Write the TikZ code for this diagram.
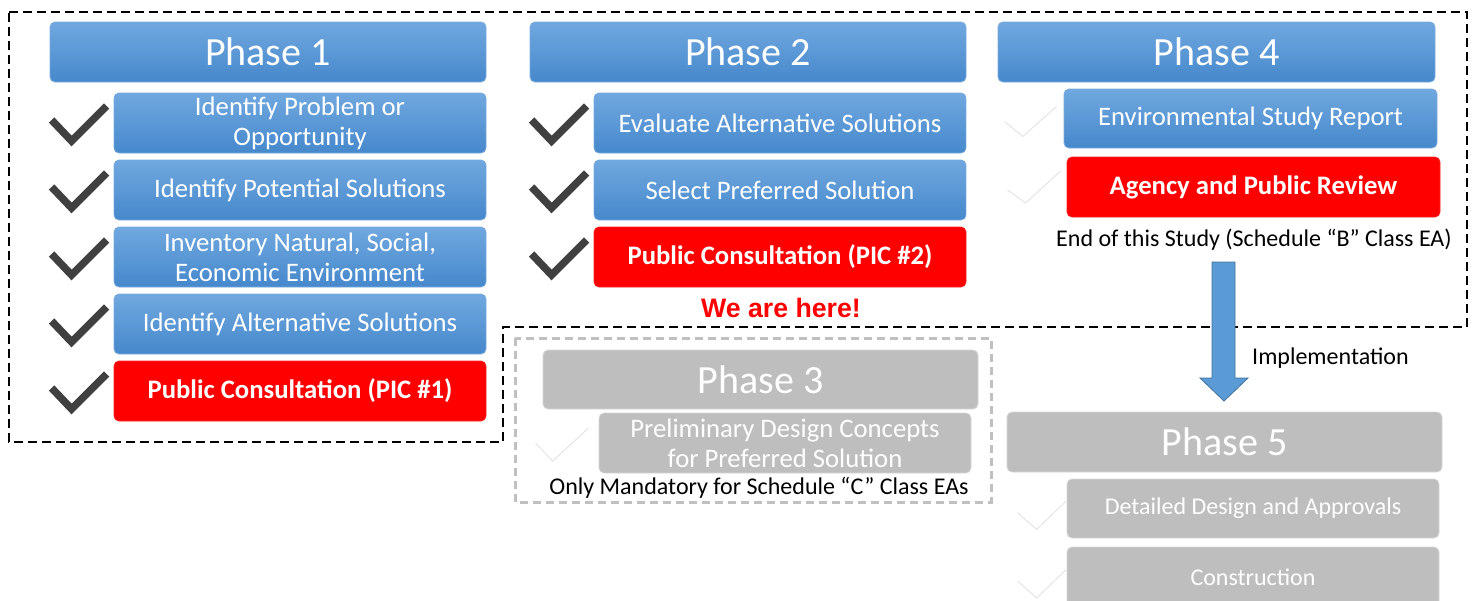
\documentclass[tikz,border=0pt]{standalone}
\usepackage{fontspec}
\setmainfont{Carlito}
\newfontfamily\arialfont{Liberation Sans}
\usetikzlibrary{calc}
\definecolor{blueT}{RGB}{112,168,223}
\definecolor{blueB}{RGB}{70,136,204}
\definecolor{blueE}{RGB}{120,170,222}
\definecolor{grayF}{RGB}{190,190,190}
\definecolor{grayE}{RGB}{215,215,215}
\definecolor{checkC}{RGB}{64,64,64}
\definecolor{fadeC}{RGB}{228,228,228}
\definecolor{arrowF}{RGB}{91,155,213}
\definecolor{arrowE}{RGB}{65,113,156}
\definecolor{dashG}{RGB}{192,192,192}
\newcommand{\fsub}{\fontsize{26.7}{30}\selectfont}
\newcommand{\fhead}{\fontsize{40}{44}\selectfont}
\newcommand{\flab}{\fontsize{24}{28}\selectfont}
\tikzset{
  basebox/.style={rounded corners=5pt, inner sep=0pt, align=center, text=white, line width=0.8pt},
  bluebox/.style={basebox, top color=blueT, bottom color=blueB, draw=blueE, font=\fsub},
  bluehead/.style={bluebox, font=\fhead},
  redbox/.style={basebox, fill=red, draw=red!85!white, font=\fsub\bfseries},
  graybox/.style={basebox, fill=grayF, draw=grayE, font=\fsub},
  grayhead/.style={graybox, font=\fhead},
  graysmall/.style={graybox, font=\flab},
  check/.style={line width=7.5pt, draw=checkC, line join=miter},
  fadecheck/.style={line width=1pt, draw=fadeC},
  label/.style={inner sep=0pt, font=\flab, text=black}
}
\begin{document}
\begin{tikzpicture}[x=1pt,y=-1pt]
\useasboundingbox (0,0) rectangle (1474,600);
% outer dashed frame
\draw[line width=2.5pt, dash pattern=on 9pt off 5pt]
  (9,12) -- (1467,12) -- (1467,327) -- (503,327) -- (503,442) -- (9,442) -- cycle;
% phase 3 frame
\draw[line width=3pt, draw=dashG, dash pattern=on 8pt off 5pt]
  (515,338) rectangle (991,502);

% Phase 1
\node[bluehead, minimum width=436pt, minimum height=60pt] (p1h) at (268,52) {Phase 1};
\node[bluebox, minimum width=372pt, minimum height=60pt] (p1a) at (300,123) {Identify Problem or\\Opportunity};
\node[bluebox, minimum width=372pt, minimum height=60pt] (p1b) at (300,190) {\raisebox{-1pt}{Identify Potential Solutions}};
\node[bluebox, minimum width=372pt, minimum height=60pt] (p1c) at (300,257) {Inventory Natural, Social,\\Economic Environment};
\node[bluebox, minimum width=372pt, minimum height=60pt] (p1d) at (300,324) {\raisebox{-1pt}{Identify Alternative Solutions}};
\node[redbox, minimum width=372pt, minimum height=60pt] (p1e) at (300,391) {\raisebox{-1pt}{Public Consultation (PIC \#1)}};
\foreach \n in {p1a,p1b,p1c,p1d,p1e}{
  \draw[check] ($(\n.west)+(-62,-3)$) -- ++(20,21) -- ++(35,-35);
}

% Phase 2
\node[bluehead, minimum width=436pt, minimum height=60pt] (p2h) at (748,52) {Phase 2};
\node[bluebox, minimum width=372pt, minimum height=60pt] (p2a) at (780,123) {Evaluate Alternative Solutions};
\node[bluebox, minimum width=372pt, minimum height=60pt] (p2b) at (780,190) {Select Preferred Solution};
\node[redbox, minimum width=372pt, minimum height=60pt] (p2c) at (780,257) {\raisebox{-1pt}{Public Consultation (PIC \#2)}};
\foreach \n in {p2a,p2b,p2c}{
  \draw[check] ($(\n.west)+(-62,-3)$) -- ++(20,21) -- ++(35,-35);
}
\node[inner sep=0pt, text=red, font=\arialfont\bfseries\fontsize{26.7}{30}\selectfont] (here) at (781,308) {We are here!};

% Phase 4
\node[bluehead, minimum width=437pt, minimum height=60pt] (p4h) at (1216.5,52) {Phase 4};
\node[bluebox, minimum width=373pt, minimum height=59pt] (p4a) at (1250.5,118.5) {Environmental Study Report};
\node[redbox, minimum width=373pt, minimum height=60pt] (p4b) at (1253.5,187) {\raisebox{-1pt}{Agency and Public Review}};
\draw[fadecheck] ($(p4a.west)+(-59,3)$) -- ++(18,15) -- ++(34,-30);
\draw[fadecheck] ($(p4b.west)+(-59,3)$) -- ++(18,13) -- ++(35,-32);
\node[label] (p4l) at (1254,240) {End of this Study (Schedule “B” Class EA)};

% Phase 3
\node[grayhead, minimum width=435pt, minimum height=59pt] (p3h) at (760.5,379.5) {Phase 3};
\node[graybox, minimum width=372pt, minimum height=60pt] (p3a) at (785,443) {Preliminary Design Concepts\\for Preferred Solution};
\draw[fadecheck] ($(p3a.west)+(-63,0)$) -- ++(17,18) -- ++(36,-33);
\node[label] (p3l) at (759,488) {Only Mandatory for Schedule “C” Class EAs};

% Implementation arrow
\draw[fill=arrowF, draw=arrowE, line width=0.8pt]
  (1212,262) -- (1235,262) -- (1235,378) -- (1248,378) -- (1224,401) -- (1200,378) -- (1212,378) -- cycle;
\node[label, anchor=west] (impl) at (1252,358) {Implementation};

% Phase 5
\node[grayhead, minimum width=435pt, minimum height=60pt] (p5h) at (1224.5,442) {Phase 5};
\node[graysmall, minimum width=372pt, minimum height=59pt] (p5a) at (1253,508.5) {\raisebox{-1pt}{Detailed Design and Approvals}};
\node[graysmall, minimum width=372pt, minimum height=60pt] (p5b) at (1253,577) {Construction};
\draw[fadecheck] ($(p5a.west)+(-49,4)$) -- ++(19,17) -- ++(29,-28);
\draw[fadecheck] ($(p5b.west)+(-49,4)$) -- ++(19,17) -- ++(29,-28);
\end{tikzpicture}
\end{document}
